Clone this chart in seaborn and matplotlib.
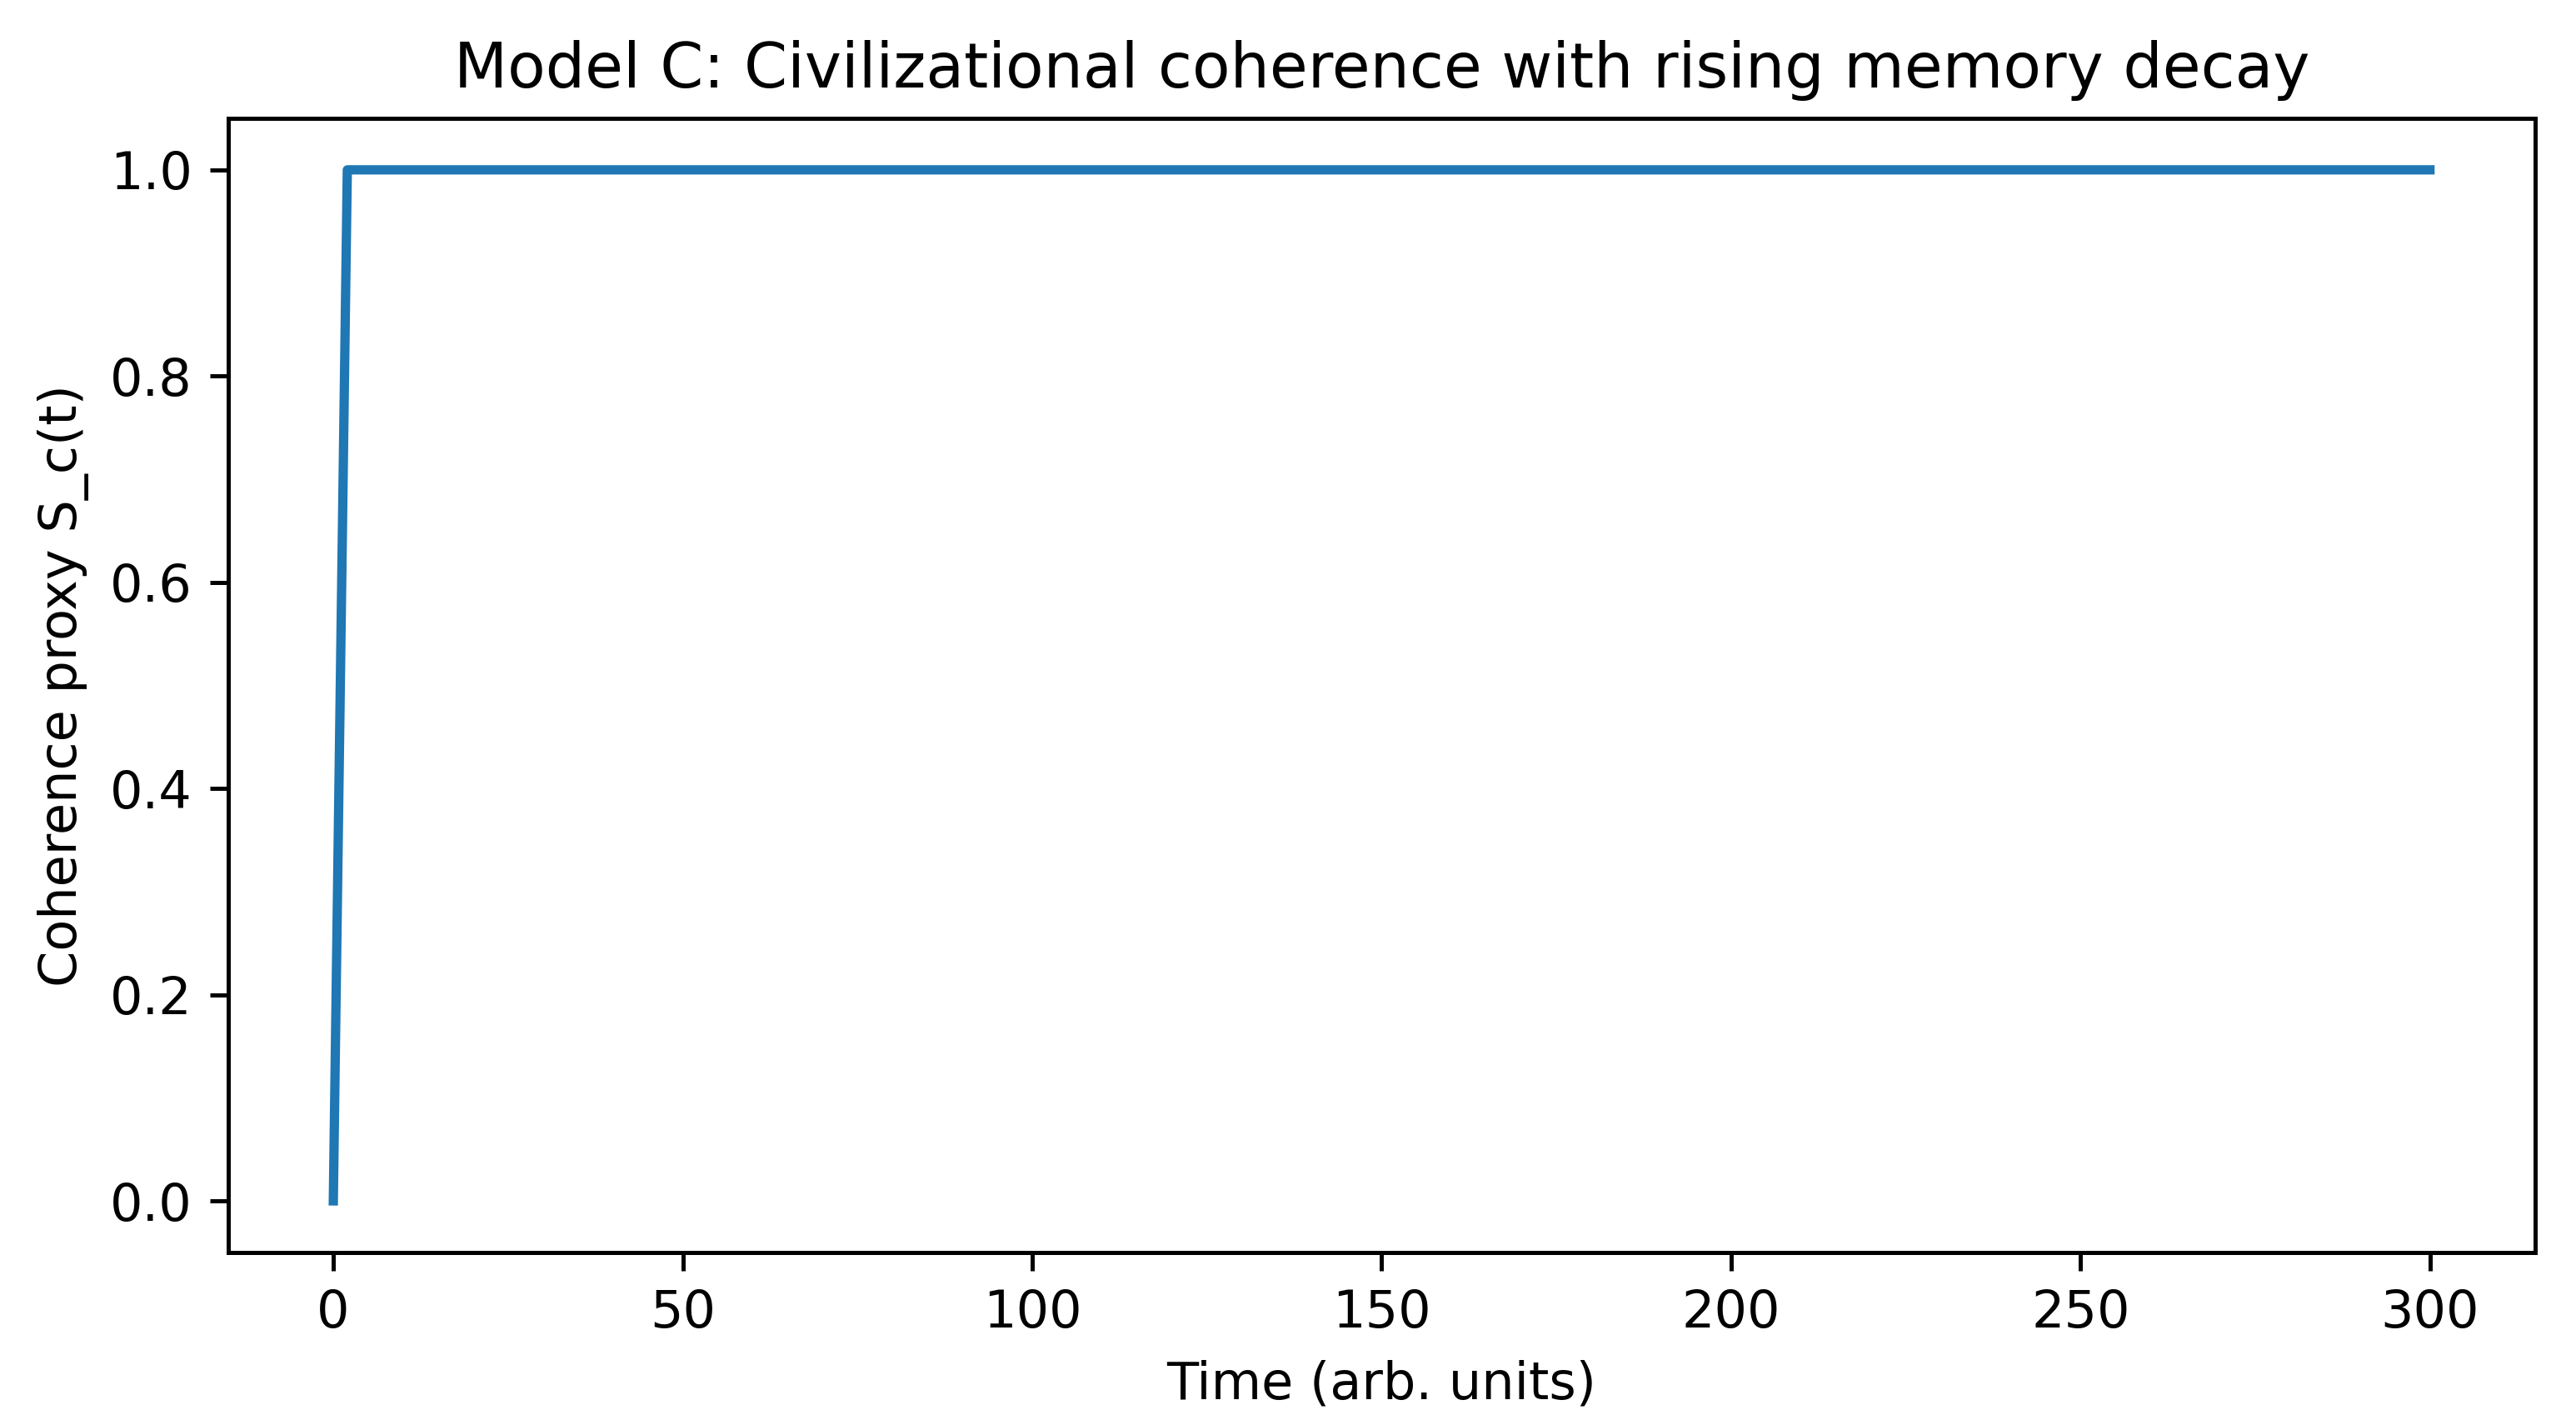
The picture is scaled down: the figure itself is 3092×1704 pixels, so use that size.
import pandas as pd
import matplotlib
matplotlib.use("Agg")
import matplotlib.pyplot as plt
import seaborn as sns

# Datos
tiempo = [0, 2, 50, 100, 150, 200, 250, 300]
coherencia = [0.0, 1.0, 1.0, 1.0, 1.0, 1.0, 1.0, 1.0]

df = pd.DataFrame({'t': tiempo, 'S_c': coherencia})

dpi = 447
fig = plt.figure(figsize=(3092 / dpi, 1704 / dpi), dpi=dpi)
ax = fig.add_axes([0.0887, 0.118, 0.984 - 0.0887, 0.9167 - 0.118])
sns.lineplot(data=df, x='t', y='S_c', ax=ax, color='#1f77b4', linewidth=1.8)
ax.set_title('Model C: Civilizational coherence with rising memory decay', fontsize=12)
ax.set_xlabel('Time (arb. units)')
ax.set_ylabel('Coherence proxy S_c(t)')
fig.savefig('out.png', dpi=dpi)
